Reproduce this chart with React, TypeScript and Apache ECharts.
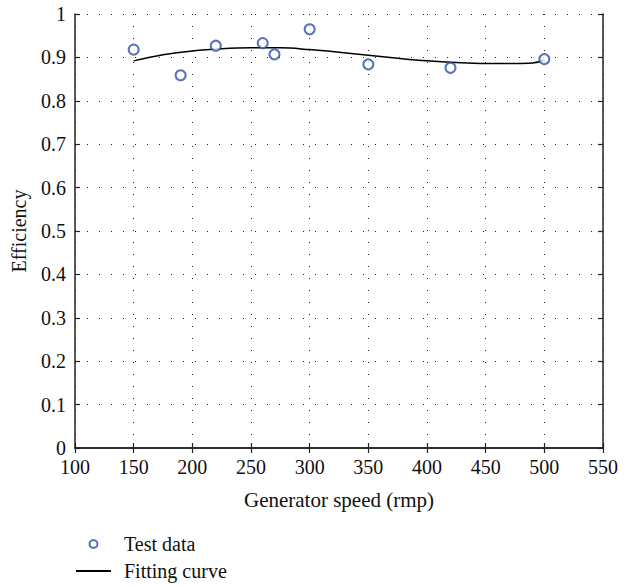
import React, { useEffect, useRef } from "react";
import * as echarts from "echarts";

const testSpeed = [150, 190, 220, 260, 270, 300, 350, 420, 500];
const testEff = [0.918, 0.859, 0.927, 0.933, 0.907, 0.965, 0.884, 0.876, 0.896];

const fitSpeed = [150, 175, 200, 225, 250, 275, 300, 325, 350, 375, 400, 425, 450, 475, 490, 500];
const fitEff = [0.892, 0.906, 0.915, 0.92, 0.922, 0.922, 0.918, 0.912, 0.905, 0.898, 0.892, 0.888, 0.886, 0.886, 0.887, 0.894];

const xTicks = { min: 100, max: 550, interval: 50 };
const yTicks = { min: 0, max: 1, interval: 0.1 };

const FONT = "'Liberation Serif', 'DejaVu Serif', serif";
const BLUE = "#2f4fa8";

export default function App() {
  const ref = useRef<HTMLDivElement>(null);
  useEffect(() => {
    if (!ref.current) return;
    const chart = echarts.init(ref.current, null, { renderer: "svg" });
    const axisLine = { show: true, lineStyle: { color: "#222", width: 1.5 } };
    const grid = { show: true, lineStyle: { color: "#222", width: 1, type: [1, 11] as any } };
    const tick = { show: true, inside: true, length: 5, lineStyle: { color: "#222", width: 1.2 } };
    const label = { color: "#111", fontFamily: FONT, fontSize: 20 };
    chart.setOption({
      animation: false,
      backgroundColor: "#fff",
      grid: { left: 75, right: 30, top: 14, bottom: 138, containLabel: false },
      legend: {
        orient: "vertical",
        left: 75,
        top: 534,
        width: 300,
        height: 60,
        padding: 0,
        itemWidth: 35,
        itemHeight: 8,
        itemGap: 7,
        textStyle: { fontFamily: FONT, fontSize: 20, color: "#111", lineHeight: 20, padding: [0, 0, 0, 8] },
        data: [
          { name: "Test data", icon: "emptyCircle", itemStyle: { color: BLUE, borderColor: BLUE, borderWidth: 1.3 } },
          { name: "Fitting curve", itemStyle: { opacity: 0 } },
        ],
      },
      xAxis: [
        {
          type: "value",
          ...xTicks,
          position: "bottom",
          name: "Generator speed (rmp)",
          nameLocation: "middle",
          nameGap: 41,
          nameTextStyle: { fontFamily: FONT, fontSize: 21, color: "#111" },
          axisLine,
          axisTick: tick,
          splitLine: grid,
          axisLabel: { ...label, margin: 9 },
        },
        {
          type: "value",
          ...xTicks,
          position: "top",
          axisLine,
          axisTick: tick,
          splitLine: { show: false },
          axisLabel: { show: false },
        },
      ],
      yAxis: [
        {
          type: "value",
          ...yTicks,
          position: "left",
          name: "Efficiency",
          nameLocation: "middle",
          nameGap: 46,
          nameTextStyle: { fontFamily: FONT, fontSize: 20, color: "#111" },
          axisLine,
          axisTick: tick,
          splitLine: grid,
          axisLabel: { ...label, margin: 9, lineHeight: 15 },
        },
        {
          type: "value",
          ...yTicks,
          position: "right",
          axisLine,
          axisTick: tick,
          splitLine: { show: false },
          axisLabel: { show: false },
        },
      ],
      series: [
        {
          name: "Test data",
          type: "scatter",
          symbol: "emptyCircle",
          symbolSize: 10,
          itemStyle: { color: BLUE, borderColor: BLUE, borderWidth: 1.3 },
          data: testSpeed.map((s, i) => [s, testEff[i]]),
          z: 3,
        },
        {
          name: "Fitting curve",
          type: "line",
          smooth: 0.4,
          showSymbol: false,
          symbol: "none",
          lineStyle: { color: "#000", width: 1.5 },
          itemStyle: { color: "#000" },
          data: fitSpeed.map((s, i) => [s, fitEff[i]]),
          z: 2,
        },
      ],
    });
    return () => chart.dispose();
  }, []);
  return <div ref={ref} style={{ width: 633, height: 586, position: "absolute", left: 0, top: 0 }} />;
}
